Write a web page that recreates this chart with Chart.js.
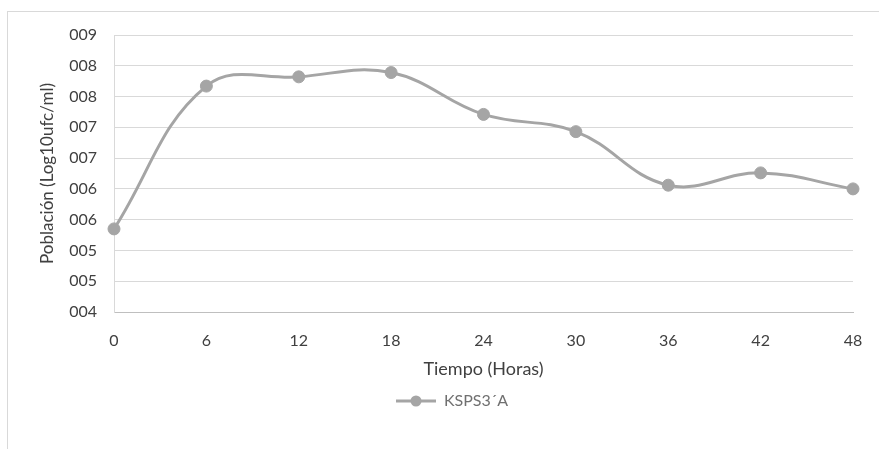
<!DOCTYPE html>
<html lang="es">
<head>
    <meta charset="UTF-8">
    <title>Población KSPS3´A</title>
    <script src="https://cdn.jsdelivr.net/npm/chart.js@4.4.1/dist/chart.umd.min.js"></script>
    <style>
        body { margin: 0; background: #fff; }
        #frame { position: absolute; left: 7px; top: 11px; width: 1000px; height: 1000px; border: 1px solid #d9d9d9; }
        #wrap { position: absolute; left: 0; top: 0; width: 879px; height: 449px; }
    </style>
</head>
<body>
    <div id="frame"></div>
    <div id="wrap"><canvas id="chart" width="879" height="449"></canvas></div>

    <script>
        // datos
        const horas = ['0', '6', '12', '18', '24', '30', '36', '42', '48'];
        const poblacion = [5.35, 7.67, 7.82, 7.89, 7.21, 6.93, 6.06, 6.26, 6.00];
        const serieNombre = 'KSPS3´A';
        const yMin = 4;
        const yMax = 8.5;
        const yPaso = 0.5;

        const gris = '#a5a5a5';
        const fuente = 'Lato, "Open Sans", sans-serif';

        // icono de la leyenda: linea con punto
        const icono = document.createElement('canvas');
        icono.width = 40;
        icono.height = 14;
        const ic = icono.getContext('2d');
        ic.strokeStyle = gris;
        ic.lineWidth = 3;
        ic.beginPath();
        ic.moveTo(0, 7);
        ic.lineTo(40, 7);
        ic.stroke();
        ic.fillStyle = gris;
        ic.beginPath();
        ic.arc(20, 7, 5.5, 0, Math.PI * 2);
        ic.fill();

        new Chart(document.getElementById('chart'), {
            type: 'line',
            data: {
                labels: horas,
                datasets: [{
                    label: serieNombre,
                    data: poblacion,
                    borderColor: gris,
                    backgroundColor: gris,
                    borderWidth: 3,
                    pointRadius: 6,
                    pointBackgroundColor: gris,
                    pointBorderColor: gris,
                    pointBorderWidth: 1,
                    tension: 0.4,
                    fill: false
                }]
            },
            options: {
                responsive: false,
                animation: false,
                layout: { padding: { left: 51, right: 26, top: 35, bottom: 30 } },
                plugins: {
                    tooltip: { enabled: false },
                    legend: {
                        position: 'bottom',
                        labels: {
                            usePointStyle: true,
                            pointStyle: icono,
                            pointStyleWidth: 40,
                            padding: 10,
                            color: '#707070',
                            font: { family: fuente, size: 16 }
                        }
                    }
                },
                scales: {
                    x: {
                        grid: { display: false, drawTicks: false },
                        border: { display: true, color: '#bfbfbf', width: 1 },
                        ticks: { color: '#404040', padding: 19, font: { family: fuente, size: 16 } },
                        title: {
                            display: true,
                            text: 'Tiempo (Horas)',
                            color: '#404040',
                            font: { family: fuente, size: 18 },
                            padding: { top: 0, bottom: 3 }
                        },
                        afterFit: (s) => { s.height = 71; s.paddingRight = 0; s.paddingLeft = 0; }
                    },
                    y: {
                        min: yMin,
                        max: yMax,
                        grid: { color: '#d9d9d9', lineWidth: 1, drawTicks: false },
                        border: { display: true, color: '#d9d9d9', width: 1 },
                        ticks: {
                            stepSize: yPaso,
                            color: '#404040',
                            padding: 17,
                            font: { family: fuente, size: 16 },
                            callback: (v) => String(Math.round(v)).padStart(3, '0')
                        },
                        title: {
                            display: true,
                            text: 'Población (Log10ufc/ml)',
                            color: '#404040',
                            font: { family: fuente, size: 17 },
                            padding: { top: -14, bottom: 0 }
                        },
                        afterFit: (s) => { s.width = 63; }
                    }
                }
            }
        });
    </script>
</body>
</html>
